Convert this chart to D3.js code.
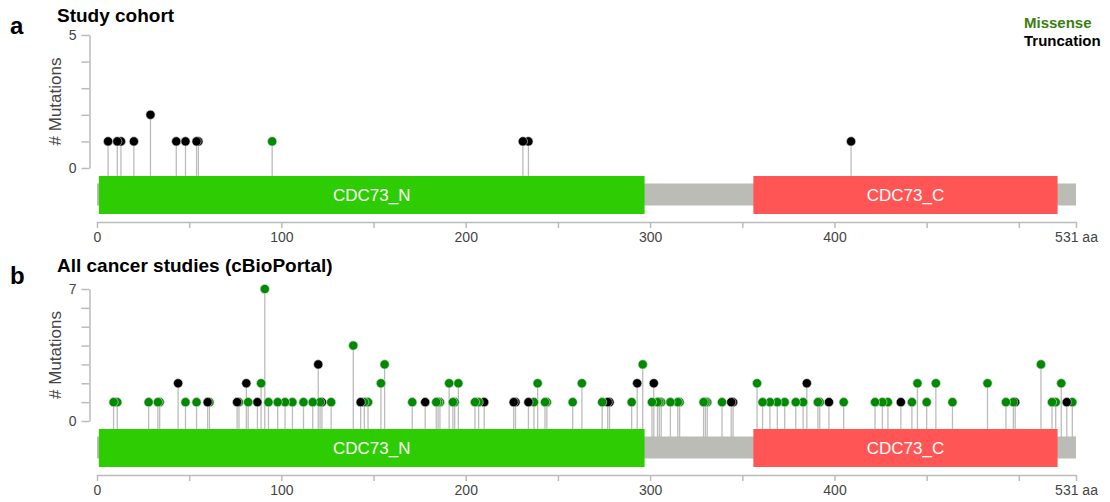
<!DOCTYPE html>
<html lang="en">
    <head>
        <meta charset="utf-8">
        <title>CDC73 lollipop plots</title>
        <script src="https://d3js.org/d3.v7.min.js"></script>
        <style type="text/css">
            body{
                margin: 0;
                background: white;
            }
            svg{
                display: block;
                font-family: "Liberation Sans", Arial, sans-serif;
            }
            .axis text{
                font-size: 14px;
                fill: #444;
            }
            .axis path, .axis line{
                stroke: #bbb;
                stroke-width: 1.5px;
            }
        </style>
    </head>
    <body>
        <svg width="1110" height="502"></svg>
        <script type="text/javascript">

            // protein
            const proteinLength = 531;
            const domainNames = ["CDC73_N", "CDC73_C"];
            const domainStart = [1, 356];
            const domainEnd = [297, 521];
            const domainColors = ["#2ecc02", "#ff5555"];

            // panel a : study cohort (M = missense, T = truncation)
            const cohortPos = [6, 11, 13, 20, 29, 43, 48, 54, 55, 95, 231, 234, 409];
            const cohortCount = [1, 1, 1, 1, 2, 1, 1, 1, 1, 1, 1, 1, 1];
            const cohortType = ["T", "T", "T", "T", "T", "T", "T", "T", "T", "M", "T", "T", "T"];

            // panel b : all cancer studies (cBioPortal)
            const cbioPos = [9, 11, 28, 33, 34, 44, 48, 54, 60, 61, 76, 77, 81, 82, 87, 89, 91, 93, 98, 102,
                106, 112, 117, 120, 121, 122, 127, 139, 143, 145, 147, 154, 156, 171, 178, 184, 185, 186, 191, 193,
                194, 196, 205, 207, 210, 226, 227, 234, 237, 239, 243, 244, 258, 263, 274, 277, 278, 290, 293, 296,
                301, 302, 304, 305, 306, 311, 315, 316, 329, 330, 331, 339, 344, 345, 358, 361, 365, 369, 373, 379,
                383, 385, 391, 392, 397, 405, 422, 426, 429, 436, 442, 445, 450, 455, 464, 483, 493, 497, 498, 512,
                518, 520, 523, 526, 529];
            const cbioCount = [1, 1, 1, 1, 1, 2, 1, 1, 1, 1, 1, 1, 2, 1, 1, 2, 7, 1, 1, 1,
                1, 1, 1, 3, 1, 1, 1, 4, 1, 1, 1, 2, 3, 1, 1, 1, 1, 1, 2, 1,
                1, 2, 1, 1, 1, 1, 1, 1, 1, 2, 1, 1, 1, 2, 1, 1, 1, 1, 2, 3,
                1, 2, 1, 1, 1, 1, 1, 1, 1, 1, 1, 1, 1, 1, 2, 1, 1, 1, 1, 1,
                1, 2, 1, 1, 1, 1, 1, 1, 1, 1, 1, 2, 1, 2, 1, 2, 1, 1, 1, 3,
                1, 1, 2, 1, 1];
            const cbioType = ["M", "M", "M", "M", "M", "T", "M", "M", "T", "M", "T", "M", "T", "M", "T", "M", "M", "M", "M", "M",
                "M", "M", "M", "T", "M", "T", "M", "M", "T", "M", "M", "M", "M", "M", "T", "M", "M", "M", "M", "M",
                "M", "M", "M", "M", "T", "T", "T", "T", "M", "M", "M", "M", "M", "M", "M", "T", "T", "M", "T", "M",
                "M", "T", "M", "M", "M", "M", "M", "M", "M", "M", "M", "M", "T", "T", "M", "M", "M", "M", "M", "M",
                "M", "T", "M", "M", "T", "M", "M", "M", "M", "T", "M", "M", "M", "M", "M", "M", "M", "M", "T", "M",
                "M", "M", "M", "T", "M"];

            const xTicks = [0, 50, 100, 150, 200, 250, 300, 350, 400, 450, 500, 531];
            const xTickLabels = [0, 100, 200, 300, 400];

            const legendLabels = ["Missense", "Truncation"];
            const legendColors = ["#3b7d10", "#000000"];

            const typeColor = {M: "#008a00", T: "#000000"};

            const svg = d3.select("svg");

            const x = d3.scaleLinear()
                        .domain([0, proteinLength])
                        .range([97, 1076]);

            function drawPanel(letter, title, pos, cnt, typ, yMax, y0, yTop, topY){

                const y = d3.scaleLinear()
                            .domain([0, yMax])
                            .range([y0, yTop]);

                const data = pos.map((p, i) => ({pos: p, count: cnt[i], type: typ[i]}))
                                .sort((a, b) => d3.descending(a.pos, b.pos));

                const g = svg.append("g");

                // stems
                g.selectAll(".stem")
                    .data(data)
                    .join("line")
                    .attr("class", "stem")
                    .attr("x1", d => x(d.pos))
                    .attr("x2", d => x(d.pos))
                    .attr("y1", y0 + 16)
                    .attr("y2", d => y(d.count))
                    .attr("stroke", "#bcbcbc")
                    .attr("stroke-width", 1.3);

                // backbone
                g.append("rect")
                    .attr("x", x(0))
                    .attr("y", y0 + 15.5)
                    .attr("width", x(proteinLength) - x(0))
                    .attr("height", 22)
                    .attr("fill", "#babcb5");

                // domains
                domainNames.forEach((name, i) => {
                    g.append("rect")
                        .attr("x", x(domainStart[i]))
                        .attr("y", y0 + 8)
                        .attr("width", x(domainEnd[i]) - x(domainStart[i]))
                        .attr("height", 38)
                        .attr("fill", domainColors[i]);
                    g.append("text")
                        .attr("x", (x(domainStart[i]) + x(domainEnd[i])) / 2)
                        .attr("y", y0 + 33)
                        .attr("text-anchor", "middle")
                        .attr("font-size", "17px")
                        .attr("fill", "white")
                        .text(name);
                });

                // heads
                g.selectAll(".head")
                    .data(data)
                    .join("circle")
                    .attr("class", "head")
                    .attr("cx", d => x(d.pos))
                    .attr("cy", d => y(d.count))
                    .attr("r", 4.6)
                    .attr("fill", d => typeColor[d.type])
                    .attr("stroke", "#dddddd")
                    .attr("stroke-width", 0.6);

                // y axis
                g.append("g")
                    .attr("class", "axis")
                    .attr("transform", "translate(89.5,0)")
                    .call(d3.axisLeft(y)
                            .tickValues(d3.range(0, yMax + 1))
                            .tickFormat(d => (d === 0 || d === yMax) ? d : "")
                            .tickSize(8)
                            .tickSizeOuter(0)
                            .tickPadding(5));

                g.append("text")
                    .attr("transform", "translate(61," + ((y0 + yTop) / 2) + ") rotate(-90)")
                    .attr("text-anchor", "middle")
                    .attr("font-size", "17px")
                    .attr("fill", "#444")
                    .text("# Mutations");

                // x axis
                g.append("g")
                    .attr("class", "axis")
                    .attr("transform", "translate(0," + (y0 + 54) + ")")
                    .call(d3.axisBottom(x)
                            .tickValues(xTicks)
                            .tickSize(6)
                            .tickSizeOuter(0)
                            .tickPadding(4)
                            .tickFormat(d => d === proteinLength ? d + " aa" : (xTickLabels.includes(d) ? d : "")));

                // titles
                g.append("text")
                    .attr("x", 10)
                    .attr("y", topY + 12)
                    .attr("font-size", "24px")
                    .attr("font-weight", "bold")
                    .attr("fill", "black")
                    .text(letter);

                g.append("text")
                    .attr("x", 57)
                    .attr("y", topY)
                    .attr("font-size", "19px")
                    .attr("font-weight", "bold")
                    .attr("fill", "black")
                    .text(title);
            }

            drawPanel("a", "Study cohort", cohortPos, cohortCount, cohortType, 5, 168, 35, 22);
            drawPanel("b", "All cancer studies (cBioPortal)", cbioPos, cbioCount, cbioType, 7, 421, 289, 272);

            // legend
            svg.selectAll(".legend")
                .data(legendLabels)
                .join("text")
                .attr("class", "legend")
                .attr("x", 1024)
                .attr("y", (d, i) => 28 + i * 18)
                .attr("font-size", "15px")
                .attr("font-weight", "bold")
                .attr("fill", (d, i) => legendColors[i])
                .text(d => d);

        </script>
    </body>
</html>
